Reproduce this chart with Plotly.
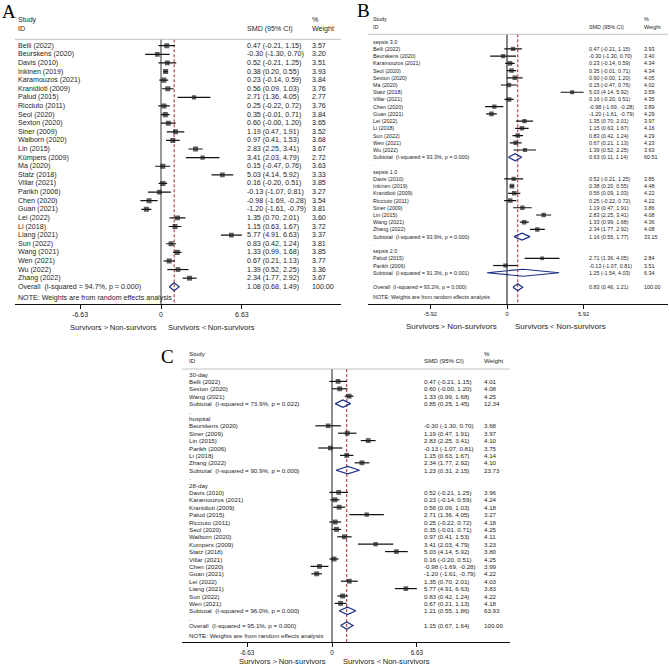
import math
import plotly.graph_objects as go

# ---------------- Panel A data ----------------
a_study = ["Belli (2022)", "Beurskens (2020)", "Davis (2010)", "Inkinen (2019)", "Karamouzos (2021)",
           "Kranidioti (2009)", "Palud (2015)", "Ricciuto (2011)", "Seol (2020)", "Sexton (2020)",
           "Siner (2009)", "Walborn (2020)", "Lin (2015)", "Kümpers (2009)", "Ma (2020)",
           "Statz (2018)", "Villar (2021)", "Parikh (2006)", "Chen (2020)", "Guan (2021)",
           "Lei (2022)", "Li (2018)", "Liang (2021)", "Sun (2022)", "Wang (2021)",
           "Wen (2021)", "Wu (2022)", "Zhang (2022)"]
a_est = [0.47, -0.30, 0.52, 0.38, 0.23, 0.56, 2.71, 0.25, 0.35, 0.60, 1.19, 0.97, 2.83, 3.41, 0.15,
         5.03, 0.16, -0.13, -0.98, -1.20, 1.35, 1.15, 5.77, 0.83, 1.33, 0.67, 1.39, 2.34]
a_lo = [-0.21, -1.30, -0.21, 0.20, -0.14, 0.09, 1.36, -0.22, -0.01, -0.00, 0.47, 0.41, 2.25, 2.03, -0.47,
        4.14, -0.20, -1.07, -1.69, -1.61, 0.70, 0.63, 4.91, 0.42, 0.99, 0.21, 0.52, 1.77]
a_hi = [1.15, 0.70, 1.25, 0.55, 0.59, 1.03, 4.05, 0.72, 0.71, 1.20, 1.91, 1.53, 3.41, 4.79, 0.76,
        5.92, 0.51, 0.81, -0.28, -0.79, 2.01, 1.67, 6.63, 1.24, 1.68, 1.13, 2.25, 2.92]
a_wt = [3.57, 3.20, 3.51, 3.93, 3.84, 3.76, 2.77, 3.76, 3.84, 3.65, 3.52, 3.68, 3.67, 2.72, 3.63,
        3.33, 3.85, 3.27, 3.54, 3.81, 3.60, 3.72, 3.37, 3.81, 3.85, 3.77, 3.36, 3.67]
a_overall = [1.08, 0.68, 1.49, 100.00]   # est, lo, hi, weight
a_overall_i2 = 94.7
a_overall_p = 0.000
a_ticks = [-6.63, 0, 6.63]

# ---------------- Panel B data ----------------
b_groups = ["sepsis 3.0", "sepsis 1.0", "sepsis 2.0"]
b_group = ["sepsis 3.0"] * 15 + ["sepsis 1.0"] * 8 + ["sepsis 2.0"] * 2
b_study = ["Belli (2022)", "Beurskens (2020)", "Karamouzos (2021)", "Seol (2020)", "Sexton (2020)",
           "Ma (2020)", "Statz (2018)", "Villar (2021)", "Chen (2020)", "Guan (2021)", "Lei (2022)",
           "Li (2018)", "Sun (2022)", "Wen (2021)", "Wu (2022)",
           "Davis (2010)", "Inkinen (2019)", "Kranidioti (2009)", "Ricciuto (2011)", "Siner (2009)",
           "Lin (2015)", "Wang (2021)", "Zhang (2022)",
           "Palud (2015)", "Parikh (2006)"]
b_est = [0.47, -0.30, 0.23, 0.35, 0.60, 0.15, 5.03, 0.16, -0.98, -1.20, 1.35, 1.15, 0.83, 0.67, 1.39,
         0.52, 0.38, 0.56, 0.25, 1.19, 2.83, 1.33, 2.34,
         2.71, -0.13]
b_lo = [-0.21, -1.30, -0.14, -0.01, -0.00, -0.47, 4.14, -0.20, -1.69, -1.61, 0.70, 0.63, 0.42, 0.21, 0.52,
        -0.21, 0.20, 0.09, -0.22, 0.47, 2.25, 0.99, 1.77,
        1.36, -1.07]
b_hi = [1.15, 0.70, 0.59, 0.71, 1.20, 0.76, 5.92, 0.51, -0.28, -0.79, 2.01, 1.67, 1.24, 1.13, 2.25,
        1.25, 0.55, 1.03, 0.72, 1.91, 3.41, 1.68, 2.92,
        4.05, 0.81]
b_wt = [3.93, 3.40, 4.34, 4.34, 4.05, 4.02, 3.59, 4.35, 3.89, 4.29, 3.97, 4.16, 4.29, 4.23, 3.63,
        3.85, 4.48, 4.22, 4.22, 3.86, 4.08, 4.36, 4.08,
        2.84, 3.51]
b_sub_est = [0.63, 1.16, 1.25]
b_sub_lo = [0.11, 0.55, -1.54]
b_sub_hi = [1.14, 1.77, 4.03]
b_sub_wt = [60.51, 33.15, 6.34]
b_sub_i2 = [93.3, 93.9, 91.3]
b_sub_p = [0.000, 0.000, 0.001]
b_overall = [0.83, 0.46, 1.21, 100.00]
b_overall_i2 = 93.2
b_overall_p = 0.000
b_ticks = [-5.92, 0, 5.92]

# ---------------- Panel C data ----------------
c_groups = ["30-day", "hospital", "28-day"]
c_group = ["30-day"] * 3 + ["hospital"] * 6 + ["28-day"] * 16
c_study = ["Belli (2022)", "Sexton (2020)", "Wang (2021)",
           "Beurskens (2020)", "Siner (2009)", "Lin (2015)", "Parikh (2006)", "Li (2018)", "Zhang (2022)",
           "Davis (2010)", "Karamouzos (2021)", "Kranidioti (2009)", "Palud (2015)", "Ricciuto (2011)",
           "Seol (2020)", "Walborn (2020)", "Kumpers (2009)", "Statz (2018)", "Villar (2021)",
           "Chen (2020)", "Guan (2021)", "Lei (2022)", "Liang (2021)", "Sun (2022)", "Wen (2021)"]
c_est = [0.47, 0.60, 1.33,
         -0.30, 1.19, 2.83, -0.13, 1.15, 2.34,
         0.52, 0.23, 0.56, 2.71, 0.25, 0.35, 0.97, 3.41, 5.03, 0.16, -0.98, -1.20, 1.35, 5.77, 0.83, 0.67]
c_lo = [-0.21, -0.00, 0.99,
        -1.30, 0.47, 2.25, -1.07, 0.63, 1.77,
        -0.21, -0.14, 0.09, 1.36, -0.22, -0.01, 0.41, 2.03, 4.14, -0.20, -1.69, -1.61, 0.70, 4.91, 0.42, 0.21]
c_hi = [1.15, 1.20, 1.68,
        0.70, 1.91, 3.41, 0.81, 1.67, 2.92,
        1.25, 0.59, 1.03, 4.05, 0.72, 0.71, 1.53, 4.79, 5.92, 0.51, -0.28, -0.79, 2.01, 6.63, 1.24, 1.13]
c_wt = [4.01, 4.08, 4.25,
        3.68, 3.97, 4.10, 3.75, 4.14, 4.10,
        3.96, 4.24, 4.18, 3.27, 4.18, 4.25, 4.11, 3.23, 3.80, 4.25, 3.99, 4.22, 4.03, 3.83, 4.22, 4.18]
c_sub_est = [0.85, 1.23, 1.21]
c_sub_lo = [0.25, 0.31, 0.55]
c_sub_hi = [1.45, 2.15, 1.86]
c_sub_wt = [12.34, 23.73, 63.93]
c_sub_i2 = [73.9, 90.9, 96.0]
c_sub_p = [0.022, 0.000, 0.000]
c_overall = [1.15, 0.67, 1.64, 100.00]
c_overall_i2 = 95.1
c_overall_p = 0.000
c_ticks = [-6.63, 0, 6.63]

# ---------------- helpers ----------------
W, H = 669, 670
FONT = "Liberation Sans"
TXT = "#1e1e1e"
NB = "\u00a0"


def het(i2, p):
    return f"(I-squared = {i2:.1f}%, p = {p:.3f})"


def rows_simple(study, est, lo, hi, wt, ov, i2, p):
    rows = []
    for i in range(len(study)):
        rows.append(dict(kind="study", label=study[i], est=est[i], lo=lo[i], hi=hi[i], wt=wt[i]))
    rows.append(dict(kind="diamond", label="Overall" + NB + NB + het(i2, p),
                     est=ov[0], lo=ov[1], hi=ov[2], wt=ov[3]))
    return rows


def rows_grouped(groups, grp, study, est, lo, hi, wt, s_est, s_lo, s_hi, s_wt, s_i2, s_p, ov, i2, p):
    rows = []
    for gi, g in enumerate(groups):
        rows.append(dict(kind="header", label=g))
        for i in range(len(study)):
            if grp[i] == g:
                rows.append(dict(kind="study", label=study[i], est=est[i], lo=lo[i], hi=hi[i], wt=wt[i]))
        rows.append(dict(kind="diamond", label="Subtotal" + NB + NB + het(s_i2[gi], s_p[gi]),
                         est=s_est[gi], lo=s_lo[gi], hi=s_hi[gi], wt=s_wt[gi]))
        rows.append(dict(kind="blank", label="."))
    rows.append(dict(kind="diamond", label="Overall" + NB + NB + het(i2, p),
                     est=ov[0], lo=ov[1], hi=ov[2], wt=ov[3]))
    return rows


fig = go.Figure()
annotations = []
shapes = []
layout_axes = {}


def draw_panel(rows, g, ax, ticks, letter):
    xn, yn = "x" + ax, "y" + ax
    xl, yl = "xaxis" + ax, "yaxis" + ax
    step, row0 = g["step"], g["row0"]
    top = (g["hline"] - row0) / step
    bottom = (g["axis"] - row0) / step
    xr = [(g["x0"] - g["xnull"]) / g["pxu"], (g["x1"] - g["xnull"]) / g["pxu"]]
    fs = g["fs"]

    layout_axes[xl] = dict(domain=[g["x0"] / W, g["x1"] / W], range=xr, anchor=yn,
                           showline=True, linecolor="#111", linewidth=1,
                           ticks="outside", ticklen=4, tickwidth=1, tickcolor="#111",
                           tickvals=ticks, ticktext=[f"{t:g}" if t == 0 else f"{t:.2f}" for t in ticks],
                           tickfont=dict(size=g["tfs"], family=FONT, color=TXT),
                           showgrid=False, zeroline=False, fixedrange=True)
    layout_axes[yl] = dict(domain=[1 - g["axis"] / H, 1 - g["hline"] / H], range=[bottom, top],
                           anchor=xn, visible=False, showgrid=False, zeroline=False, fixedrange=True)

    # reference lines
    ov = rows[-1]
    shapes.append(dict(type="line", xref=xn, yref=yn, x0=0, x1=0, y0=top, y1=bottom,
                       line=dict(color=g["nullc"], width=g["nullw"]), layer="below"))
    shapes.append(dict(type="line", xref=xn, yref=yn, x0=ov["est"], x1=ov["est"], y0=top, y1=bottom,
                       line=dict(color="#b0202a", width=1, dash="3px,2px"), layer="below"))
    # header line
    shapes.append(dict(type="line", xref="paper", yref="paper", x0=g["x0"] / W, x1=g["x1"] / W,
                       y0=1 - g["hline"] / H, y1=1 - g["hline"] / H,
                       line=dict(color="#b4b4b4", width=0.8)))

    # CI lines
    xs, ys = [], []
    mx, my, ms = [], [], []
    for r, row in enumerate(rows):
        if row["kind"] == "study":
            xs += [row["lo"], row["hi"], None]
            ys += [r, r, None]
            mx.append(row["est"])
            my.append(r)
            ms.append(g["msk"] * math.sqrt(row["wt"]))
    fig.add_trace(go.Scatter(x=xs, y=ys, mode="lines", line=dict(color="#111", width=1.2),
                             xaxis=xn, yaxis=yn, hoverinfo="skip", showlegend=False))
    fig.add_trace(go.Scatter(x=mx, y=my, mode="markers",
                             marker=dict(symbol="square", size=ms, color="#1a1a1a", line=dict(width=0)),
                             xaxis=xn, yaxis=yn, hoverinfo="skip", showlegend=False))
    # diamonds
    dx, dy = [], []
    hh = g["dh"] / step
    for r, row in enumerate(rows):
        if row["kind"] == "diamond":
            dx += [row["lo"], row["est"], row["hi"], row["est"], row["lo"], None]
            dy += [r, r - hh, r, r + hh, r, None]
    fig.add_trace(go.Scatter(x=dx, y=dy, mode="lines", line=dict(color="#1b2f86", width=1.2),
                             xaxis=xn, yaxis=yn, hoverinfo="skip", showlegend=False))

    def txt(x_px, y, text, yref="paper", size=fs, anchor="left", fam=FONT):
        annotations.append(dict(x=x_px / W, y=y, xref="paper", yref=yref, text=text, showarrow=False,
                                xanchor=anchor, yanchor="middle",
                                font=dict(size=size, family=fam, color=TXT)))

    # header texts
    txt(g["lx"], 1 - g["sy"] / H, "Study")
    txt(g["lx"], 1 - g["iy"] / H, "ID")
    txt(g["cx"], 1 - g["iy"] / H, "SMD (95% CI)")
    txt(g["wx"], 1 - g["sy"] / H, "%")
    txt(g["wx"], 1 - g["iy"] / H, "Weight")
    # row texts
    for r, row in enumerate(rows):
        txt(g["lx"], r, row["label"], yref=yn)
        if row["kind"] in ("study", "diamond"):
            txt(g["cx"], r, f"{row['est']:.2f} ({row['lo']:.2f}, {row['hi']:.2f})", yref=yn)
            txt(g["wx"], r, f"{row['wt']:.2f}", yref=yn)
    txt(g["lx"], 1 - g["ny"] / H, "NOTE: Weights are from random effects analysis")
    # axis titles
    txt(g["tl"], 1 - g["ty"] / H, "Survivors\uff1eNon-survivors", size=g["tts"], anchor="right")
    txt(g["tr"], 1 - g["ty"] / H, "Survivors\uff1cNon-survivors", size=g["tts"], anchor="left")
    # panel letter
    annotations.append(dict(x=letter[1] / W, y=1 - letter[2] / H, xref="paper", yref="paper",
                            text=letter[0], showarrow=False, xanchor="center", yanchor="middle",
                            font=dict(size=19, family="Liberation Serif", color="#000")))


rows_a = rows_simple(a_study, a_est, a_lo, a_hi, a_wt, a_overall, a_overall_i2, a_overall_p)
rows_b = rows_grouped(b_groups, b_group, b_study, b_est, b_lo, b_hi, b_wt,
                      b_sub_est, b_sub_lo, b_sub_hi, b_sub_wt, b_sub_i2, b_sub_p,
                      b_overall, b_overall_i2, b_overall_p)
rows_c = rows_grouped(c_groups, c_group, c_study, c_est, c_lo, c_hi, c_wt,
                      c_sub_est, c_sub_lo, c_sub_hi, c_sub_wt, c_sub_i2, c_sub_p,
                      c_overall, c_overall_i2, c_overall_p)

geo_a = dict(x0=15, x1=341, xnull=161, pxu=12.2, hline=39.3, row0=45.7, step=8.61, axis=304,
             lx=16, cx=245, wx=310, sy=20, iy=29, ny=298, ty=327, tl=159, tr=166,
             fs=7.1, tfs=7, tts=7.6, msk=2.6, dh=4.0, nullc="#808080", nullw=1.6)
geo_b = dict(x0=368, x1=668, xnull=507, pxu=12.95, hline=34.3, row0=41.7, step=7.22, axis=304,
             lx=371, cx=587, wx=642, sy=19, iy=27, ny=297, ty=326, tl=499, tr=513,
             fs=5.4, tfs=5.8, tts=8.0, msk=2.2, dh=3.5, nullc="#333333", nullw=1.2)
geo_c = dict(x0=182, x1=510, xnull=332, pxu=12.8, hline=369, row0=374, step=7.4, axis=642,
             lx=187, cx=422, wx=482, sy=353, iy=360, ny=635, ty=661, tl=328, tr=341,
             fs=6.2, tfs=6.3, tts=7.6, msk=2.4, dh=3.7, nullc="#808080", nullw=1.8)

draw_panel(rows_a, geo_a, "", a_ticks, ("A", 9, 11))
draw_panel(rows_b, geo_b, "2", b_ticks, ("B", 363, 10))
draw_panel(rows_c, geo_c, "3", c_ticks, ("C", 167, 356))

fig.update_layout(width=W, height=H, margin=dict(l=0, r=0, t=0, b=0),
                  paper_bgcolor="white", plot_bgcolor="rgba(0,0,0,0)",
                  showlegend=False, annotations=annotations, shapes=shapes,
                  font=dict(family=FONT, color=TXT), **layout_axes)

fig.write_html("out.html", config={"displayModeBar": False},
               post_script="document.body.style.margin='0';document.body.style.overflow='hidden';")
